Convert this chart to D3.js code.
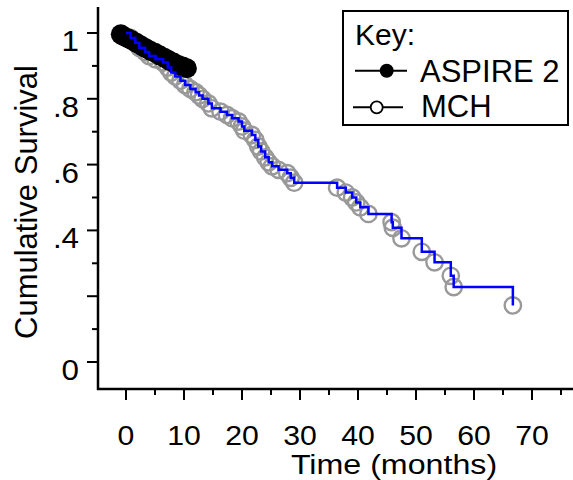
<!DOCTYPE html>
<html>
<head>
<meta charset="utf-8">
<script src="https://cdn.jsdelivr.net/npm/d3@7"></script>
<style>
html,body{margin:0;padding:0;background:#fff;}
svg{display:block;}
text{font-family:"Liberation Sans",Arial,Helvetica,sans-serif;fill:#000;}
</style>
</head>
<body>
<div id="chart"></div>
<script>
// ---- data ----
const aspireTime = [-0.9, -0.4, 0.3, 1.0, 1.8, 2.6, 3.4, 4.2, 5.0, 5.8, 6.6, 7.4, 8.2, 9.0, 9.8, 10.5];
const aspireSurv = [0.996, 0.99, 0.984, 0.978, 0.97, 0.962, 0.954, 0.946, 0.94, 0.932, 0.925, 0.917, 0.91, 0.903, 0.898, 0.893];

const mchTime = [0.8,1.6,2.3,3.3,4.0,5.1,6.4,7.2,7.8,8.5,9.4,10.2,11.1,12.0,12.6,13.2,14.2,14.8,16.3,17.4,18.3,19.4,20.0,20.4,21.7,22.3,22.8,23.3,24.0,24.6,25.2,26.3,27.8,28.4,29.0,36.4,37.9,39.0,39.7,40.4,41.8,45.8,46.0,47.5,51.0,53.2,56.0,56.5,66.7];
const mchSurv = [0.985,0.970,0.955,0.942,0.930,0.920,0.910,0.895,0.880,0.868,0.855,0.842,0.830,0.820,0.810,0.800,0.786,0.771,0.761,0.751,0.741,0.731,0.716,0.703,0.690,0.675,0.655,0.640,0.622,0.607,0.595,0.584,0.574,0.560,0.545,0.530,0.515,0.500,0.485,0.470,0.450,0.425,0.408,0.376,0.335,0.303,0.262,0.228,0.172];
const mchStart = {t: 0, s: 1};

const xMajorTicks = [0, 10, 20, 30, 40, 50, 60, 70];
const xMinorTicks = [5, 15, 25, 35, 45, 55, 65, 75];
const yMajorTicks = [0, 0.2, 0.4, 0.6, 0.8, 1];
const yMinorTicks = [0.1, 0.3, 0.5, 0.7, 0.9];
const yLabelValues = [0, 0.4, 0.6, 0.8, 1];
const yLabelTexts = ["0", ".4", ".6", ".8", "1"];

const xTitle = "Time (months)";
const yTitle = "Cumulative Survival";
const legendTitle = "Key:";
const seriesNames = ["ASPIRE 2", "MCH"];

// ---- layout ----
const W = 573, H = 480;
const axisX = 98, axisY = 389, axisTop = 7;
const x = d3.scaleLinear().domain([0, 70]).range([126, 532]);
const y = d3.scaleLinear().domain([0, 1]).range([362, 33]);

const svg = d3.select("#chart").append("svg").attr("width", W).attr("height", H);

// axes lines
svg.append("line").attr("x1", axisX).attr("x2", axisX).attr("y1", axisTop).attr("y2", axisY + 1)
  .attr("stroke", "#000").attr("stroke-width", 2.5);
svg.append("line").attr("x1", axisX - 1).attr("x2", W).attr("y1", axisY).attr("y2", axisY)
  .attr("stroke", "#000").attr("stroke-width", 2.5);

// x ticks
svg.selectAll(".xmaj").data(xMajorTicks).enter().append("line")
  .attr("x1", d => x(d)).attr("x2", d => x(d)).attr("y1", axisY).attr("y2", axisY + 11)
  .attr("stroke", "#000").attr("stroke-width", 2);
svg.selectAll(".xmin").data(xMinorTicks).enter().append("line")
  .attr("x1", d => x(d)).attr("x2", d => x(d)).attr("y1", axisY).attr("y2", axisY + 6)
  .attr("stroke", "#000").attr("stroke-width", 2);
svg.selectAll(".xlab").data(xMajorTicks).enter().append("text")
  .attr("transform", d => `translate(${x(d)},445) scale(1.12,1)`).attr("text-anchor", "middle")
  .style("font-size", "27px").text(d => String(d));

// y ticks
svg.selectAll(".ymaj").data(yMajorTicks).enter().append("line")
  .attr("x1", axisX - 11).attr("x2", axisX).attr("y1", d => y(d)).attr("y2", d => y(d))
  .attr("stroke", "#000").attr("stroke-width", 2);
svg.selectAll(".ymin").data(yMinorTicks).enter().append("line")
  .attr("x1", axisX - 6).attr("x2", axisX).attr("y1", d => y(d)).attr("y2", d => y(d))
  .attr("stroke", "#000").attr("stroke-width", 2);
svg.selectAll(".ylab").data(yLabelValues).enter().append("text")
  .attr("transform", d => `translate(79,${y(d) + 18}) scale(1.08,1)`).attr("text-anchor", "end")
  .style("font-size", "29px").text((d, i) => yLabelTexts[i]);

// titles
svg.append("text").attr("transform", "translate(394,474) scale(1.15,1)").attr("text-anchor", "middle")
  .style("font-size", "28px").text(xTitle);
svg.append("text").attr("transform", "translate(37,202) rotate(-90)").attr("text-anchor", "middle")
  .style("font-size", "31px").text(yTitle);

// ---- series ----
const mchData = mchTime.map((t, i) => ({t, s: mchSurv[i]}));
const aspData = aspireTime.map((t, i) => ({t, s: aspireSurv[i]}));

svg.append("g").selectAll("circle").data(mchData).enter().append("circle")
  .attr("cx", d => x(d.t)).attr("cy", d => y(d.s)).attr("r", 8.2)
  .attr("fill", "none").attr("stroke", "#999999").attr("stroke-width", 2.4);

svg.append("g").selectAll("circle").data(aspData).enter().append("circle")
  .attr("cx", d => x(d.t)).attr("cy", d => y(d.s)).attr("r", 10)
  .attr("fill", "#000");

const line = d3.line().x(d => x(d.t)).y(d => y(d.s)).curve(d3.curveStepAfter);
svg.append("path").datum([mchStart].concat(mchData)).attr("d", line)
  .attr("fill", "none").attr("stroke", "#0000ff").attr("stroke-width", 2.5);

// ---- legend ----
const lg = svg.append("g");
lg.append("rect").attr("x", 343).attr("y", 11).attr("width", 225).attr("height", 114)
  .attr("fill", "#fff").attr("stroke", "#000").attr("stroke-width", 2);
lg.append("text").attr("x", 355).attr("y", 45).style("font-size", "30px").text(legendTitle);
lg.append("line").attr("x1", 355).attr("x2", 407).attr("y1", 70.7).attr("y2", 70.7)
  .attr("stroke", "#000").attr("stroke-width", 2);
lg.append("circle").attr("cx", 386.7).attr("cy", 70.7).attr("r", 7).attr("fill", "#000");
lg.append("text").attr("x", 420).attr("y", 82).style("font-size", "31px").text(seriesNames[0]);
lg.append("line").attr("x1", 353).attr("x2", 403).attr("y1", 107.3).attr("y2", 107.3)
  .attr("stroke", "#000").attr("stroke-width", 2);
lg.append("circle").attr("cx", 376.7).attr("cy", 107.3).attr("r", 6).attr("fill", "#fff")
  .attr("stroke", "#000").attr("stroke-width", 1.8);
lg.append("text").attr("x", 421).attr("y", 117).style("font-size", "31px").text(seriesNames[1]);
</script>
</body>
</html>
